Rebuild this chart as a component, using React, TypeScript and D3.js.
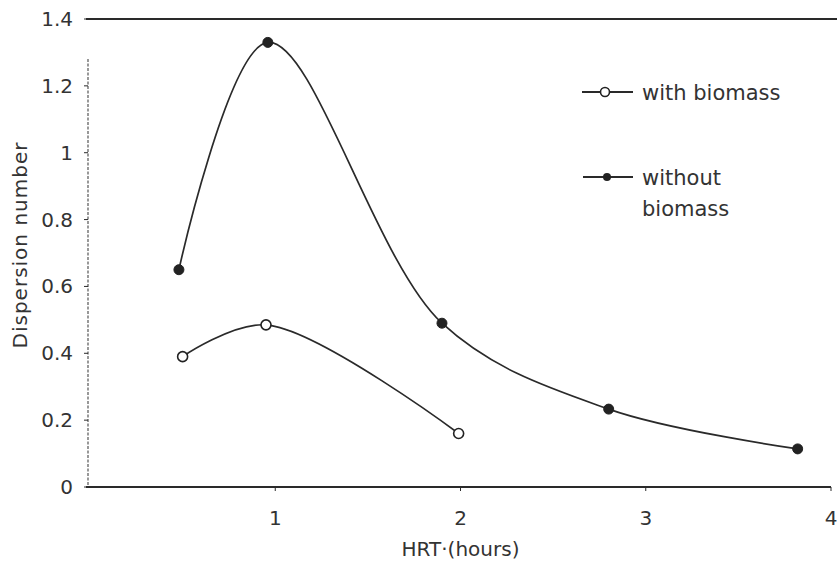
import React from "react";
import * as d3 from "d3";

// values
const withHrt = [0.5, 0.95, 1.99];
const withDisp = [0.39, 0.485, 0.16];
const withoutHrt = [0.48, 0.96, 1.9, 2.8, 3.82];
const withoutDisp = [0.65, 1.33, 0.49, 0.233, 0.114];
const yTicks = [0, 0.2, 0.4, 0.6, 0.8, 1, 1.2, 1.4];
const xTicks = [1, 2, 3, 4];

const W = 837;
const H = 565;
const margin = { left: 90, right: 6, top: 19, bottom: 78 };
const ink = "#2a2a2a";
const font = "'DejaVu Sans', Verdana, sans-serif";

export default function App() {
  const x = d3.scaleLinear().domain([0, 4]).range([margin.left, W - margin.right]);
  const y = d3.scaleLinear().domain([0, 1.4]).range([H - margin.bottom, margin.top]);

  const line = d3
    .line<[number, number]>()
    .x((d) => x(d[0]))
    .y((d) => y(d[1]))
    .curve(d3.curveCatmullRom.alpha(0.5));

  const withPts: [number, number][] = withHrt.map((h, i) => [h, withDisp[i]]);
  const withoutPts: [number, number][] = withoutHrt.map((h, i) => [h, withoutDisp[i]]);

  const axisY = y(0);

  return (
    <svg
      width={W}
      height={H}
      style={{ position: "absolute", left: 0, top: 0, background: "#fff" }}
      fontFamily={font}
    >
      {/* top frame line at 1.4 */}
      <line x1={x(0) - 4} x2={W} y1={y(1.4)} y2={y(1.4)} stroke={ink} strokeWidth={2} />
      {/* y axis, faint dotted */}
      <line
        x1={x(0) - 2}
        x2={x(0) - 2}
        y1={y(1.28)}
        y2={axisY}
        stroke="#555"
        strokeWidth={1.2}
        strokeDasharray="3,1.5"
      />
      {/* x axis */}
      <line x1={x(0) - 4} x2={x(4)} y1={axisY} y2={axisY} stroke={ink} strokeWidth={2} />

      {yTicks.map((t) => (
        <g key={t}>
          <line x1={x(0) - 6} x2={x(0) - 2} y1={y(t)} y2={y(t)} stroke={ink} strokeWidth={1} />
          <text
            x={x(0) - 17}
            y={y(t)}
            textAnchor="end"
            dominantBaseline="central"
            fontSize={20}
            fill="#333"
          >
            {d3.format("~g")(t)}
          </text>
        </g>
      ))}

      {xTicks.map((t) => (
        <g key={t}>
          <line x1={x(t)} x2={x(t)} y1={axisY} y2={axisY + 4} stroke={ink} strokeWidth={1} />
          <text
            x={x(t)}
            y={axisY + 31}
            textAnchor="middle"
            dominantBaseline="central"
            fontSize={20}
            fill="#333"
          >
            {t}
          </text>
        </g>
      ))}

      <text
        x={(x(0) + x(4)) / 2}
        y={H - 16}
        textAnchor="middle"
        dominantBaseline="central"
        fontSize={20}
        fill="#333"
      >
        HRT·(hours)
      </text>
      <text
        transform={`translate(20, 245) rotate(-90)`}
        textAnchor="middle"
        dominantBaseline="central"
        fontSize={20}
        letterSpacing={1}
        fill="#333"
      >
        Dispersion number
      </text>

      <path d={line(withoutPts) ?? ""} fill="none" stroke={ink} strokeWidth={1.7} />
      <path d={line(withPts) ?? ""} fill="none" stroke={ink} strokeWidth={1.7} />

      {withoutPts.map((p, i) => (
        <circle key={"wo" + i} cx={x(p[0])} cy={y(p[1])} r={5} fill="#222" stroke="#222" />
      ))}
      {withPts.map((p, i) => (
        <circle
          key={"w" + i}
          cx={x(p[0])}
          cy={y(p[1])}
          r={5}
          fill="#fff"
          stroke="#222"
          strokeWidth={1.6}
        />
      ))}

      {/* legend */}
      <g>
        <line x1={582} x2={633} y1={92} y2={92} stroke={ink} strokeWidth={2} />
        <circle cx={605} cy={92} r={4.5} fill="#fff" stroke="#222" strokeWidth={1.6} />
        <text x={642} y={93} dominantBaseline="central" fontSize={21} fill="#333">
          with biomass
        </text>
        <line x1={583} x2={633} y1={177} y2={177} stroke={ink} strokeWidth={2} />
        <circle cx={607} cy={177} r={4} fill="#222" />
        <text x={642} y={178} dominantBaseline="central" fontSize={21} fill="#333">
          without
        </text>
        <text x={642} y={209} dominantBaseline="central" fontSize={21} fill="#333">
          biomass
        </text>
      </g>
    </svg>
  );
}
